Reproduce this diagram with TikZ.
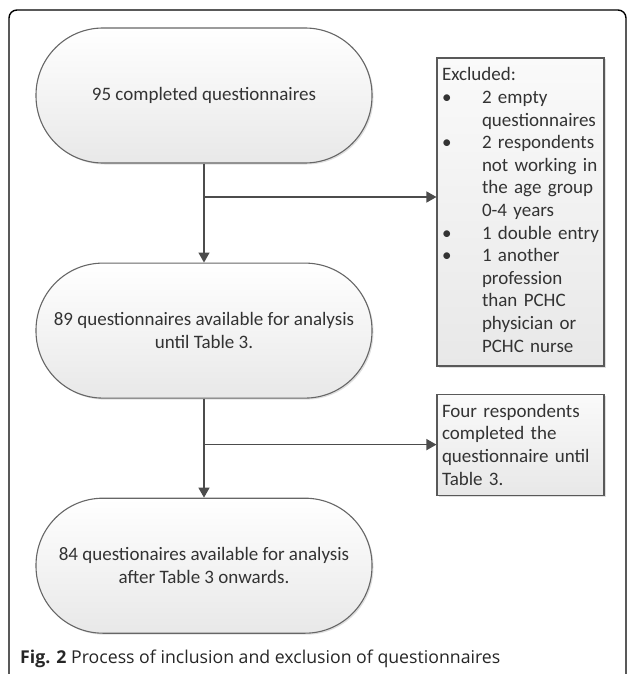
\documentclass[tikz,border=0pt]{standalone}
\usepackage{fontspec}
\setmainfont{Carlito}
\newfontfamily\capfont{Open Sans}
\usetikzlibrary{arrows.meta, positioning, shadows}

\begin{document}
\begin{tikzpicture}[x=1pt, y=-1pt,
  term/.style={draw=black!60, line width=1.1pt, rounded corners=67pt,
               top color=white, bottom color=black!9, align=center,
               minimum width=336pt, minimum height=135pt, inner sep=0pt,
               drop shadow={shadow xshift=1.5pt, shadow yshift=-1.5pt, opacity=0.25}},
  note/.style={draw=black!65, line width=1.1pt, top color=black!2, bottom color=black!9,
               align=left, text width=157pt, inner sep=5pt,
               drop shadow={shadow xshift=1.5pt, shadow yshift=-1.5pt, opacity=0.25}},
  ar/.style={-{Triangle[length=10pt, width=11pt]}, draw=black!70, line width=1.3pt},
  font=\fontsize{19}{22.6}\selectfont, text=black!80, node distance=99pt]
\useasboundingbox (0,0) rectangle (627,674);
% outer frame
\draw[line width=1.4pt, rounded corners=8pt] (9,690) -- (9,10) -- (626,10) -- (626,690);
% main column
\node[term] (q1) at (204,95.5) {95 completed questionnaires};
\node[term, below=of q1] (q2) {89 questionnaires available for analysis\\until Table 3.};
\node[term, below=of q2] (q3) {84 questionaires available for analysis\\after Table 3 onwards.};
\draw[ar] (q1) -- (q2); \draw[ar] (q2) -- (q3);
% exclusions
\node[note, minimum height=308pt] (ex1) at (520.5,212) {%
  \begin{tabular}{@{}p{40pt}@{}l@{}}
  \multicolumn{2}{@{}l@{}}{Excluded:}\\
  \textbullet & 2 empty\\
              & questionnaires\\
  \textbullet & 2 respondents\\
              & not working in\\
              & the age group\\
              & 0-4 years\\
  \textbullet & 1 double entry\\
  \textbullet & 1 another\\
              & profession\\
              & than PCHC\\
              & physician or\\
              & PCHC nurse
  \end{tabular}};
\node[note, minimum height=101pt, below=27pt of ex1] (ex2)
  {Four respondents\\completed the\\questionnaire until\\Table 3.};
\coordinate (j1) at (q1.south |- 0,197);
\coordinate (j2) at (q2.south |- ex2.west);
\draw[ar] (j1) -- (j1 -| ex1.west);
\draw[ar] (j2) -- (ex2.west);
% caption
\node[anchor=base west, inner sep=0pt, text=black!85,
      font=\capfont\fontsize{17.7}{20}\selectfont] (cap) at (20,663)
  {\textbf{Fig. 2} Process of inclusion and exclusion of questionnaires};
\end{tikzpicture}
\end{document}
